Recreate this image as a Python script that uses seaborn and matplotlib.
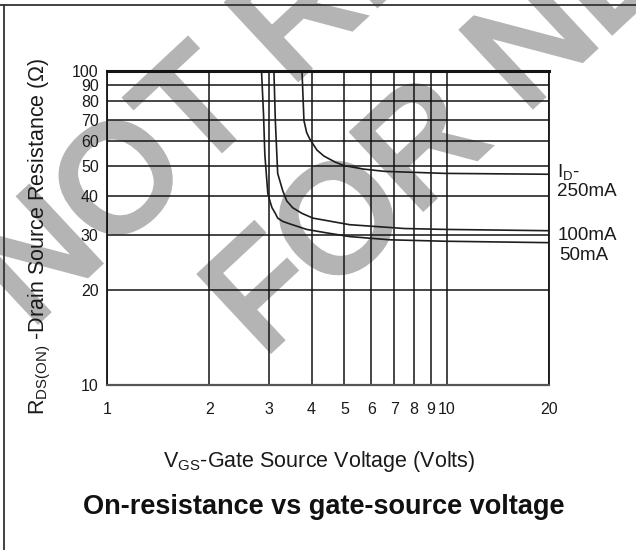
import matplotlib
matplotlib.use('Agg')
import matplotlib.pyplot as plt
import matplotlib.patheffects as pe
import seaborn as sns
import pandas as pd
from matplotlib.lines import Line2D
from matplotlib.ticker import NullLocator, FixedLocator

# --- Dados (Vgs em volts, Rds(on) em ohms) ---
v_50ma = [2.85, 2.89, 2.915, 2.975, 3.02, 3.06, 3.13, 3.18, 3.29, 3.45, 3.87, 4.44, 5.18, 6.80, 9.86, 20]
r_50ma = [100, 72.3, 54.2, 40.7, 38.4, 36.7, 35.2, 34.0, 33.2, 32.6, 31.3, 30.5, 29.7, 29.0, 28.7, 28.4]

v_100ma = [3.10, 3.13, 3.18, 3.29, 3.38, 3.52, 3.75, 4.04, 5.18, 7.52, 9.86, 20]
r_100ma = [100, 69.5, 47.2, 41.6, 38.6, 36.7, 35.2, 34.0, 32.4, 31.5, 31.3, 31.0]

v_250ma = [3.75, 3.80, 3.87, 3.95, 4.15, 4.35, 4.69, 4.98, 5.70, 6.57, 9.86, 20]
r_250ma = [100, 69.5, 63.7, 60.8, 56.0, 53.6, 51.3, 50.0, 48.7, 47.9, 47.2, 46.9]

x_ticks = [1, 2, 3, 4, 5, 6, 7, 8, 9, 10, 20]
y_ticks = [10, 20, 30, 40, 50, 60, 70, 80, 90, 100]

curve_labels = ['I$_{\\mathregular{D}}$-\n250mA', '100mA', '50mA']

df = pd.concat([
    pd.DataFrame({'vgs': v_50ma, 'rds': r_50ma, 'id': '50mA'}),
    pd.DataFrame({'vgs': v_100ma, 'rds': r_100ma, 'id': '100mA'}),
    pd.DataFrame({'vgs': v_250ma, 'rds': r_250ma, 'id': '250mA'}),
])

sns.set_style("white")
plt.rcParams['font.family'] = ['Liberation Sans', 'DejaVu Sans']
plt.rcParams['mathtext.default'] = 'regular'

fig = plt.figure(figsize=(6.36, 5.5), dpi=100)
fig.patch.set_facecolor('white')

# marca d'agua (por baixo do grafico)
wm_color = '#b4b4b4'
wm = dict(fontsize=108, color=wm_color, rotation=43, rotation_mode='anchor',
          ha='left', va='baseline', zorder=-5,
          path_effects=[pe.withStroke(linewidth=4.5, foreground=wm_color,
                                      joinstyle='miter')])
fig.text(0.046, 0.402, 'NOT RECOMMENDED', **wm)
fig.text(0.412, 0.349, 'FOR NEW DESIGN', **wm)

ax = fig.add_axes([0.1682, 0.3, 0.695, 0.5709])
ax.set_facecolor('none')

sns.lineplot(data=df, x='vgs', y='rds', units='id', estimator=None, sort=False,
             color='#1e1e1e', linewidth=1.2, ax=ax)

ax.set_xscale('log')
ax.set_yscale('log')
ax.set_xlim(1, 20)
ax.set_ylim(10, 100)
ax.xaxis.set_major_locator(FixedLocator(x_ticks))
ax.yaxis.set_major_locator(FixedLocator(y_ticks))
ax.xaxis.set_minor_locator(NullLocator())
ax.yaxis.set_minor_locator(NullLocator())
ax.set_xticklabels([str(t) for t in x_ticks])
ax.set_yticklabels([str(t) for t in y_ticks])
ax.tick_params(axis='x', length=0, pad=12, labelsize=11.5, colors='#1a1a1a')
ax.tick_params(axis='y', length=0, pad=6, labelsize=11.5, colors='#1a1a1a')
ax.grid(True, which='major', color='#141414', linewidth=1.1)
ax.set_xlabel('')
ax.set_ylabel('')

for side in ['left', 'right', 'top', 'bottom']:
    ax.spines[side].set_color('#141414')
    ax.spines[side].set_linewidth(1.3)
ax.spines['top'].set_linewidth(2.2)
ax.spines['bottom'].set_color('#555555')
ax.spines['bottom'].set_linewidth(1.6)

# rotulos das curvas
fig.text(0.876, 1 - 181 / 550, curve_labels[0], fontsize=13.5, color='#1a1a1a',
         ha='left', va='center', linespacing=1.0)
fig.text(0.876, 1 - 236 / 550, curve_labels[1], fontsize=13.5, color='#1a1a1a',
         ha='left', va='center')
fig.text(0.880, 1 - 255 / 550, curve_labels[2], fontsize=13.5, color='#1a1a1a',
         ha='left', va='center')

fig.text(40 / 636, 1 - 236 / 550, 'R$_{\\mathregular{DS(ON)}}$ -Drain Source Resistance (\u03a9)',
         rotation=90, ha='center', va='center', fontsize=15.5, color='#1a1a1a')
fig.text(319 / 636, 1 - 462 / 550, 'V$_{\\mathregular{GS}}$-Gate Source Voltage (Volts)',
         ha='center', va='center', fontsize=15.5, color='#1a1a1a')
fig.text(324 / 636, 1 - 507 / 550, 'On-resistance vs gate-source voltage',
         ha='center', va='center', fontsize=19.5, fontweight='bold', color='#111111')

# moldura da pagina
fig.add_artist(Line2D([0, 1], [1 - 5 / 550, 1 - 5 / 550], transform=fig.transFigure,
                      color='#333333', linewidth=1.3))
fig.add_artist(Line2D([4 / 636, 4 / 636], [0, 1 - 5 / 550], transform=fig.transFigure,
                      color='#333333', linewidth=1.3))

fig.savefig('out.png', dpi=100)
